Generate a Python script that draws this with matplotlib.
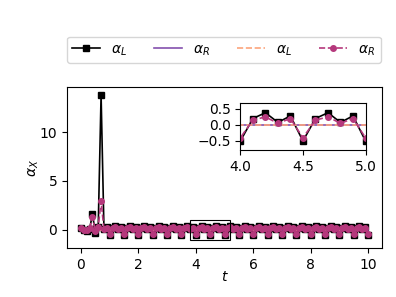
import numpy as np
import matplotlib as mpl
mpl.use('Agg')
from matplotlib import pyplot as plt
from matplotlib.patches import Rectangle

# time samples
t = np.round(np.arange(0, 10.01, 0.1), 1)

# alpha_L (black squares)
alpha_l = [
    0.2, 0.0, -0.1, 0.1, 1.6, -0.3, 0.3, 13.8, 0.08, 0.28,
    -0.5, 0.2, 0.38, 0.08, 0.28, -0.5, 0.2, 0.38, 0.08, 0.28,
    -0.5, 0.2, 0.38, 0.08, 0.28, -0.5, 0.2, 0.38, 0.08, 0.28,
    -0.5, 0.2, 0.38, 0.08, 0.28, -0.5, 0.2, 0.38, 0.08, 0.28,
    -0.5, 0.2, 0.38, 0.08, 0.28, -0.5, 0.2, 0.38, 0.08, 0.28,
    -0.5, 0.2, 0.38, 0.08, 0.28, -0.5, 0.2, 0.38, 0.08, 0.28,
    -0.5, 0.2, 0.38, 0.08, 0.28, -0.5, 0.2, 0.38, 0.08, 0.28,
    -0.5, 0.2, 0.38, 0.08, 0.28, -0.5, 0.2, 0.38, 0.08, 0.28,
    -0.5, 0.2, 0.38, 0.08, 0.28, -0.5, 0.2, 0.38, 0.08, 0.28,
    -0.5, 0.2, 0.38, 0.08, 0.28, -0.5, 0.2, 0.38, 0.08, 0.28,
    -0.5,
]

# alpha_R (pink circles, dashed)
alpha_r2 = [
    0.2, 0.0, 0.0, 0.2, 1.3, -0.1, 0.3, 2.95, 0.05, 0.2,
    -0.4, 0.15, 0.25, 0.05, 0.2, -0.4, 0.15, 0.25, 0.05, 0.2,
    -0.4, 0.15, 0.25, 0.05, 0.2, -0.4, 0.15, 0.25, 0.05, 0.2,
    -0.4, 0.15, 0.25, 0.05, 0.2, -0.4, 0.15, 0.25, 0.05, 0.2,
    -0.4, 0.15, 0.25, 0.05, 0.2, -0.4, 0.15, 0.25, 0.05, 0.2,
    -0.4, 0.15, 0.25, 0.05, 0.2, -0.4, 0.15, 0.25, 0.05, 0.2,
    -0.4, 0.15, 0.25, 0.05, 0.2, -0.4, 0.15, 0.25, 0.05, 0.2,
    -0.4, 0.15, 0.25, 0.05, 0.2, -0.4, 0.15, 0.25, 0.05, 0.2,
    -0.4, 0.15, 0.25, 0.05, 0.2, -0.4, 0.15, 0.25, 0.05, 0.2,
    -0.4, 0.15, 0.25, 0.05, 0.2, -0.4, 0.15, 0.25, 0.05, 0.2,
    -0.4,
]

# the other two series stay at zero
alpha_r1 = [0.0] * len(t)
alpha_l2 = [0.0] * len(t)

C_BLACK = 'k'
C_PURPLE = '#8450ae'
C_ORANGE = '#fca47c'
C_PINK = '#b5387c'


def draw_series(ax, ms):
    ax.plot(t, alpha_l, '-s', color=C_BLACK, ms=ms, lw=1.2, label=r'$\alpha_L$')
    ax.plot(t, alpha_r1, '-', color=C_PURPLE, lw=1.2, label=r'$\alpha_R$')
    ax.plot(t, alpha_l2, '--', color=C_ORANGE, lw=1.2, label=r'$\alpha_L$')
    ax.plot(t, alpha_r2, '--o', color=C_PINK, ms=ms, lw=1.2, label=r'$\alpha_R$')


fig = plt.figure(figsize=(3.96, 2.97), dpi=100)
ax = fig.add_axes([0.169, 0.165, 0.796, 0.542])
draw_series(ax, 4)
ax.set_xlim(-0.49, 10.49)
ax.set_ylim(-1.85, 14.6)
ax.set_xticks([0, 2, 4, 6, 8, 10])
ax.set_yticks([0, 5, 10])
ax.set_xlabel(r'$t$', labelpad=-1)
ax.set_ylabel(r'$\alpha_X$', labelpad=-1)

# zoom region marker
ax.add_patch(Rectangle((3.8, -1.05), 1.4, 2.05, fill=False, ec='k', lw=0.8, zorder=5))

# inset
axin = fig.add_axes([0.607, 0.495, 0.316, 0.159])
draw_series(axin, 4)
axin.set_xlim(4.0, 5.0)
axin.set_ylim(-0.78, 0.69)
axin.set_xticks([4.0, 4.5, 5.0])
axin.set_yticks([-0.5, 0.0, 0.5])

handles, labels = ax.get_legend_handles_labels()
fig.legend(handles, labels, loc='center', ncol=4, bbox_to_anchor=(0.565, 0.832),
           frameon=True, fontsize=10, handlelength=2.0, columnspacing=1.95)

fig.savefig('out.png', dpi=100)
